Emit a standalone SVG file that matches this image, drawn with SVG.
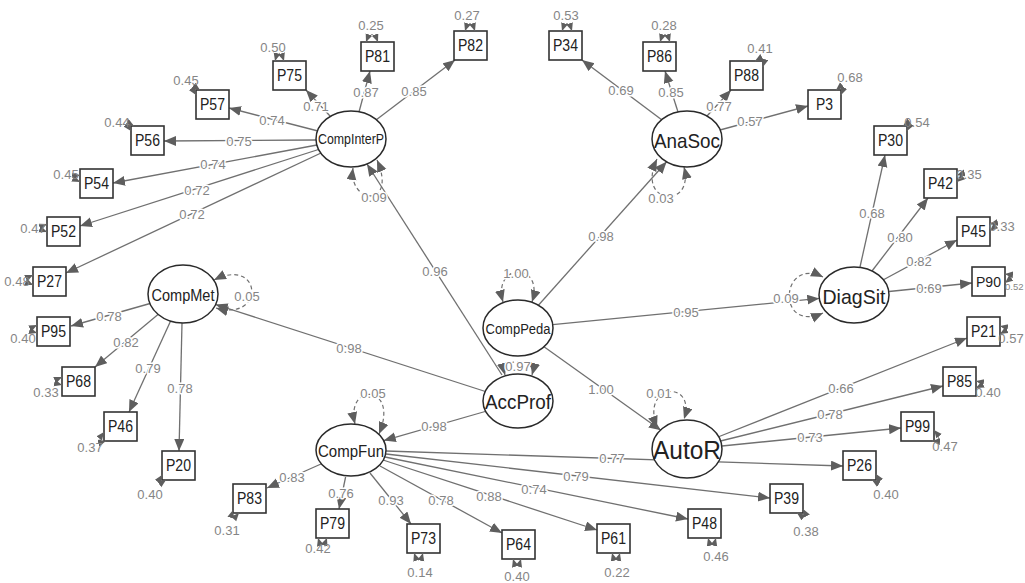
<svg xmlns="http://www.w3.org/2000/svg" width="1025" height="583" viewBox="0 0 1025 583">
<defs>
<marker id="ah" markerUnits="userSpaceOnUse" markerWidth="14" markerHeight="11" refX="12" refY="5" orient="auto-start-reverse"><path d="M0,0 L12,5 L0,10 z" fill="#5e5e5e"/></marker>
<marker id="sa" markerUnits="userSpaceOnUse" markerWidth="10" markerHeight="9" refX="8" refY="3.5" orient="auto-start-reverse"><path d="M0,0 L8,3.5 L0,7 z" fill="#5e5e5e"/></marker>
</defs>
<style>
.ln{stroke:#707070;stroke-width:1.3;fill:none;marker-end:url(#ah)}
.dl{stroke:#707070;stroke-width:1.2;fill:none;stroke-dasharray:4 3;marker-start:url(#ah);marker-end:url(#ah)}
.res{stroke:#707070;stroke-width:1;fill:none;marker-start:url(#sa);marker-end:url(#sa)}
.lab{font-family:"Liberation Sans",Arial,sans-serif;font-size:13px;fill:#858585;text-anchor:middle;dominant-baseline:central;stroke:#fff;stroke-width:3;paint-order:stroke;stroke-linejoin:round}
.rl{font-family:"Liberation Sans",Arial,sans-serif;font-size:13px;fill:#858585;text-anchor:middle;dominant-baseline:central}
.box{fill:#fff;stroke:#333;stroke-width:1.6}
.lat{fill:#fff;stroke:#2a2a2a;stroke-width:1.5}
.bt{font-family:"Liberation Sans",Arial,sans-serif;font-size:16px;fill:#222;text-anchor:middle;dominant-baseline:central}
.lt{font-family:"Liberation Sans",Arial,sans-serif;fill:#222;text-anchor:middle;dominant-baseline:central}
</style>
<rect width="1025" height="583" fill="#fff"/>
<g id="connectors">
<path class="ln" d="M318,131 L229,108"/>
<path class="ln" d="M316,140 L164,141"/>
<path class="ln" d="M317,145 L113,183"/>
<path class="ln" d="M318.5,149.5 L80,226"/>
<path class="ln" d="M321,153 L66,273"/>
<path class="ln" d="M330,116 L306,90"/>
<path class="ln" d="M359,112 L370,71"/>
<path class="ln" d="M376,120 L455,60"/>
<path class="ln" d="M662,120 L582,60"/>
<path class="ln" d="M678,112 L665,71"/>
<path class="ln" d="M707,116 L731,90"/>
<path class="ln" d="M720,130 L808,106"/>
<path class="ln" d="M860,267 L885,155"/>
<path class="ln" d="M872,271 L928,198"/>
<path class="ln" d="M883,280 L957,240"/>
<path class="ln" d="M889,291.5 L972,283"/>
<path class="ln" d="M718,437 L967,338"/>
<path class="ln" d="M720.5,441 L943,386"/>
<path class="ln" d="M722,446 L901,428"/>
<path class="ln" d="M321,464 L267,488"/>
<path class="ln" d="M345.6,477 L339,509"/>
<path class="ln" d="M370,473 L411,524"/>
<path class="ln" d="M380,466 L502,533"/>
<path class="ln" d="M383,460 L597,530"/>
<path class="ln" d="M385,457 L688,519"/>
<path class="ln" d="M386,454 L770,498"/>
<path class="ln" d="M386,451 L843,466"/>
<path class="ln" d="M150,303.5 L71,326"/>
<path class="ln" d="M158,314.5 L95,367"/>
<path class="ln" d="M170.6,321 L129,412"/>
<path class="ln" d="M182,323 L179,451"/>
<path class="ln" d="M538.4,305.2 L666.6,161.8"/>
<path class="ln" d="M552.7,324.6 L819.3,298.4"/>
<path class="ln" d="M544,346.7 L660.9,430.3"/>
<path class="ln" d="M502,375 L367,164"/>
<path class="ln" d="M485.4,391.5 L215.6,304.5"/>
<path class="ln" d="M485.1,411.5 L383.8,440.6"/>
<path class="dl" d="M353,168 C348,205 398,208 377,160"/>
<path class="dl" d="M657,159 C635,205 695,210 684,167"/>
<path class="dl" d="M823,277 C780,256 776,334 823,313"/>
<path class="dl" d="M214,280 C262,256 266,322 216,308"/>
<path class="dl" d="M503,302 C492,262 545,262 532,302"/>
<path class="dl" d="M505,375 C500,357 537,357 532,375"/>
<path class="dl" d="M657,428 C640,382 697,380 684,419"/>
<path class="dl" d="M355,424 C345,382 400,384 379,434"/>
<text class="lab" x="272" y="120">0.74</text>
<text class="lab" x="239" y="141">0.75</text>
<text class="lab" x="213" y="164">0.74</text>
<text class="lab" x="197" y="190">0.72</text>
<text class="lab" x="192" y="214">0.72</text>
<text class="lab" x="316" y="106">0.71</text>
<text class="lab" x="366" y="92">0.87</text>
<text class="lab" x="414" y="91">0.85</text>
<text class="lab" x="621" y="90">0.69</text>
<text class="lab" x="671" y="92">0.85</text>
<text class="lab" x="719" y="106">0.77</text>
<text class="lab" x="750" y="121">0.57</text>
<text class="lab" x="872" y="213">0.68</text>
<text class="lab" x="900" y="237">0.80</text>
<text class="lab" x="919" y="261">0.82</text>
<text class="lab" x="929" y="288">0.69</text>
<text class="lab" x="841" y="388">0.66</text>
<text class="lab" x="830" y="414">0.78</text>
<text class="lab" x="810" y="437">0.73</text>
<text class="lab" x="612" y="458">0.77</text>
<text class="lab" x="292" y="477">0.83</text>
<text class="lab" x="341" y="493">0.76</text>
<text class="lab" x="391" y="500">0.93</text>
<text class="lab" x="441" y="500">0.78</text>
<text class="lab" x="489" y="496">0.88</text>
<text class="lab" x="534" y="489">0.74</text>
<text class="lab" x="576" y="476">0.79</text>
<text class="lab" x="109" y="316">0.78</text>
<text class="lab" x="126" y="342">0.82</text>
<text class="lab" x="148" y="368">0.79</text>
<text class="lab" x="180" y="388">0.78</text>
<text class="lab" x="601" y="236">0.98</text>
<text class="lab" x="686" y="312">0.95</text>
<text class="lab" x="601" y="389">1.00</text>
<text class="lab" x="435" y="271">0.96</text>
<text class="lab" x="349" y="348">0.98</text>
<text class="lab" x="434" y="426">0.98</text>
<text class="lab" x="374" y="197">0.09</text>
<text class="lab" x="661" y="198">0.03</text>
<text class="lab" x="786" y="298">0.09</text>
<text class="lab" x="247" y="296">0.05</text>
<text class="lab" x="516" y="273">1.00</text>
<text class="lab" x="518" y="366">0.97</text>
<text class="lab" x="659" y="393">0.01</text>
<text class="lab" x="373" y="393">0.05</text>
</g>
<g id="CompInterP"><ellipse class="lat" cx="351" cy="139" rx="35" ry="28"/><text class="lt" x="351" y="139" font-size="14" textLength="66" lengthAdjust="spacingAndGlyphs">CompInterP</text></g>
<g id="AnaSoc"><ellipse class="lat" cx="687" cy="139" rx="35" ry="28"/><text class="lt" x="687" y="140" font-size="21" textLength="66" lengthAdjust="spacingAndGlyphs">AnaSoc</text></g>
<g id="DiagSit"><ellipse class="lat" cx="854" cy="295" rx="35" ry="28"/><text class="lt" x="854" y="296" font-size="21" textLength="63" lengthAdjust="spacingAndGlyphs">DiagSit</text></g>
<g id="CompMet"><ellipse class="lat" cx="183" cy="294" rx="35" ry="29"/><text class="lt" x="183" y="295" font-size="16" textLength="63" lengthAdjust="spacingAndGlyphs">CompMet</text></g>
<g id="CompPeda"><ellipse class="lat" cx="518" cy="328" rx="35" ry="28"/><text class="lt" x="518" y="329" font-size="14" textLength="65" lengthAdjust="spacingAndGlyphs">CompPeda</text></g>
<g id="AccProf"><ellipse class="lat" cx="518" cy="401" rx="35" ry="27"/><text class="lt" x="518" y="402" font-size="20" textLength="66" lengthAdjust="spacingAndGlyphs">AccProf</text></g>
<g id="CompFun"><ellipse class="lat" cx="351" cy="450" rx="35" ry="26"/><text class="lt" x="351" y="451" font-size="17" textLength="66" lengthAdjust="spacingAndGlyphs">CompFun</text></g>
<g id="AutoR"><ellipse class="lat" cx="687" cy="449" rx="35" ry="29"/><text class="lt" x="687" y="450" font-size="25" textLength="68" lengthAdjust="spacingAndGlyphs">AutoR</text></g>
<g id="P75"><rect class="box" x="273" y="61" width="33" height="29"/><text class="bt" x="289.5" y="75.5" textLength="25" lengthAdjust="spacingAndGlyphs">P75</text><path class="res" d="M275,61 Q279,46 284,61"/><text class="rl" x="273" y="47">0.50</text></g>
<g id="P81"><rect class="box" x="361" y="42" width="33" height="29"/><text class="bt" x="377.5" y="56.5" textLength="25" lengthAdjust="spacingAndGlyphs">P81</text><path class="res" d="M366,42 Q372,27 378,42"/><text class="rl" x="371" y="25">0.25</text></g>
<g id="P82"><rect class="box" x="454" y="31" width="33" height="29"/><text class="bt" x="470.5" y="45.5" textLength="25" lengthAdjust="spacingAndGlyphs">P82</text><path class="res" d="M465,31 Q470,16 475,31"/><text class="rl" x="467" y="15">0.27</text></g>
<g id="P57"><rect class="box" x="196" y="90" width="33" height="29"/><text class="bt" x="212.5" y="104.5" textLength="25" lengthAdjust="spacingAndGlyphs">P57</text><path class="res" d="M196,95 Q188,82 200,90"/><text class="rl" x="186" y="80">0.45</text></g>
<g id="P56"><rect class="box" x="131" y="126" width="33" height="29"/><text class="bt" x="147.5" y="140.5" textLength="25" lengthAdjust="spacingAndGlyphs">P56</text><path class="res" d="M131,131 Q123,120 134,126"/><text class="rl" x="117" y="122">0.44</text></g>
<g id="P54"><rect class="box" x="80" y="169" width="33" height="29"/><text class="bt" x="96.5" y="183.5" textLength="25" lengthAdjust="spacingAndGlyphs">P54</text><path class="res" d="M80,175 Q70,177 80,182"/><text class="rl" x="66" y="174">0.45</text></g>
<g id="P52"><rect class="box" x="47" y="217" width="33" height="29"/><text class="bt" x="63.5" y="231.5" textLength="25" lengthAdjust="spacingAndGlyphs">P52</text><path class="res" d="M47,224 Q37,228 47,232"/><text class="rl" x="33" y="228">0.47</text></g>
<g id="P27"><rect class="box" x="33" y="267" width="33" height="29"/><text class="bt" x="49.5" y="281.5" textLength="25" lengthAdjust="spacingAndGlyphs">P27</text><path class="res" d="M33,275 Q22,280 33,285"/><text class="rl" x="17" y="281">0.48</text></g>
<g id="P95"><rect class="box" x="37" y="317" width="33" height="29"/><text class="bt" x="53.5" y="331.5" textLength="25" lengthAdjust="spacingAndGlyphs">P95</text><path class="res" d="M37,325 Q27,330 37,333"/><text class="rl" x="23" y="338">0.40</text></g>
<g id="P68"><rect class="box" x="62" y="367" width="33" height="29"/><text class="bt" x="78.5" y="381.5" textLength="25" lengthAdjust="spacingAndGlyphs">P68</text><path class="res" d="M62,377 Q51,382 62,385"/><text class="rl" x="46" y="392">0.33</text></g>
<g id="P46"><rect class="box" x="104" y="412" width="33" height="29"/><text class="bt" x="120.5" y="426.5" textLength="25" lengthAdjust="spacingAndGlyphs">P46</text><path class="res" d="M104,432 Q95,444 106,441"/><text class="rl" x="90" y="447">0.37</text></g>
<g id="P20"><rect class="box" x="162" y="451" width="33" height="29"/><text class="bt" x="178.5" y="465.5" textLength="25" lengthAdjust="spacingAndGlyphs">P20</text><path class="res" d="M162,475 Q154,488 166,480"/><text class="rl" x="150" y="494">0.40</text></g>
<g id="P83"><rect class="box" x="233" y="484" width="33" height="29"/><text class="bt" x="249.5" y="498.5" textLength="25" lengthAdjust="spacingAndGlyphs">P83</text><path class="res" d="M233,510 Q229,524 239,513"/><text class="rl" x="227" y="530">0.31</text></g>
<g id="P79"><rect class="box" x="316" y="509" width="33" height="29"/><text class="bt" x="332.5" y="523.5" textLength="25" lengthAdjust="spacingAndGlyphs">P79</text><path class="res" d="M318,538 Q322,551 327,538"/><text class="rl" x="318" y="548">0.42</text></g>
<g id="P73"><rect class="box" x="407" y="524" width="33" height="29"/><text class="bt" x="423.5" y="538.5" textLength="25" lengthAdjust="spacingAndGlyphs">P73</text><path class="res" d="M414,553 Q419,567 423,553"/><text class="rl" x="420" y="572">0.14</text></g>
<g id="P64"><rect class="box" x="502" y="530" width="33" height="29"/><text class="bt" x="518.5" y="544.5" textLength="25" lengthAdjust="spacingAndGlyphs">P64</text><path class="res" d="M513,559 Q517,572 521,559"/><text class="rl" x="517" y="576">0.40</text></g>
<g id="P61"><rect class="box" x="597" y="524" width="33" height="29"/><text class="bt" x="613.5" y="538.5" textLength="25" lengthAdjust="spacingAndGlyphs">P61</text><path class="res" d="M612,553 Q616,567 620,553"/><text class="rl" x="617" y="572">0.22</text></g>
<g id="P48"><rect class="box" x="688" y="509" width="33" height="29"/><text class="bt" x="704.5" y="523.5" textLength="25" lengthAdjust="spacingAndGlyphs">P48</text><path class="res" d="M708,538 Q712,552 716,538"/><text class="rl" x="716" y="556">0.46</text></g>
<g id="P39"><rect class="box" x="770" y="484" width="33" height="29"/><text class="bt" x="786.5" y="498.5" textLength="25" lengthAdjust="spacingAndGlyphs">P39</text><path class="res" d="M797,513 Q810,522 803,509"/><text class="rl" x="806" y="531">0.38</text></g>
<g id="P26"><rect class="box" x="843" y="451" width="33" height="29"/><text class="bt" x="859.5" y="465.5" textLength="25" lengthAdjust="spacingAndGlyphs">P26</text><path class="res" d="M876,474 Q884,487 872,480"/><text class="rl" x="886" y="494">0.40</text></g>
<g id="P99"><rect class="box" x="901" y="412" width="33" height="29"/><text class="bt" x="917.5" y="426.5" textLength="25" lengthAdjust="spacingAndGlyphs">P99</text><path class="res" d="M934,430 Q944,442 932,441"/><text class="rl" x="945" y="446">0.47</text></g>
<g id="P85"><rect class="box" x="943" y="367" width="33" height="29"/><text class="bt" x="959.5" y="381.5" textLength="25" lengthAdjust="spacingAndGlyphs">P85</text><path class="res" d="M976,381 Q986,383 976,388"/><text class="rl" x="988" y="392">0.40</text></g>
<g id="P21"><rect class="box" x="967" y="317" width="33" height="29"/><text class="bt" x="983.5" y="331.5" textLength="25" lengthAdjust="spacingAndGlyphs">P21</text><path class="res" d="M1000,326 Q1010,328 1000,334"/><text class="rl" x="1011" y="338">0.57</text></g>
<g id="P90"><rect class="box" x="972" y="267" width="33" height="29"/><text class="bt" x="988.5" y="281.5" font-size="15" textLength="25" lengthAdjust="spacingAndGlyphs" style="font-size:15px">P90</text><path class="res" d="M1005,274 Q1015,275 1005,283"/><text class="rl" x="1023.5" y="286" style="text-anchor:end;font-size:9.5px">0.52</text></g>
<g id="P45"><rect class="box" x="957" y="217" width="33" height="29"/><text class="bt" x="973.5" y="231.5" textLength="25" lengthAdjust="spacingAndGlyphs">P45</text><path class="res" d="M990,224 Q1000,222 990,231"/><text class="rl" x="1002" y="226">0.33</text></g>
<g id="P42"><rect class="box" x="924" y="169" width="33" height="29"/><text class="bt" x="940.5" y="183.5" textLength="25" lengthAdjust="spacingAndGlyphs">P42</text><path class="res" d="M957,175 Q968,172 957,182"/><text class="rl" x="969" y="174">0.35</text></g>
<g id="P30"><rect class="box" x="874" y="126" width="33" height="29"/><text class="bt" x="890.5" y="140.5" textLength="25" lengthAdjust="spacingAndGlyphs">P30</text><path class="res" d="M903,126 Q913,119 907,131"/><text class="rl" x="917" y="122">0.54</text></g>
<g id="P3"><rect class="box" x="808" y="90" width="33" height="29"/><text class="bt" x="824.5" y="104.5" textLength="17" lengthAdjust="spacingAndGlyphs">P3</text><path class="res" d="M836,90 Q846,82 841,95"/><text class="rl" x="850" y="77">0.68</text></g>
<g id="P88"><rect class="box" x="730" y="61" width="33" height="29"/><text class="bt" x="746.5" y="75.5" textLength="25" lengthAdjust="spacingAndGlyphs">P88</text><path class="res" d="M755,61 Q766,55 763,67"/><text class="rl" x="760" y="48">0.41</text></g>
<g id="P86"><rect class="box" x="643" y="42" width="33" height="29"/><text class="bt" x="659.5" y="56.5" textLength="25" lengthAdjust="spacingAndGlyphs">P86</text><path class="res" d="M660,42 Q665,27 670,42"/><text class="rl" x="664" y="25">0.28</text></g>
<g id="P34"><rect class="box" x="549" y="31" width="33" height="29"/><text class="bt" x="565.5" y="45.5" textLength="25" lengthAdjust="spacingAndGlyphs">P34</text><path class="res" d="M562,31 Q567,16 572,31"/><text class="rl" x="566" y="15">0.53</text></g>
</svg>
